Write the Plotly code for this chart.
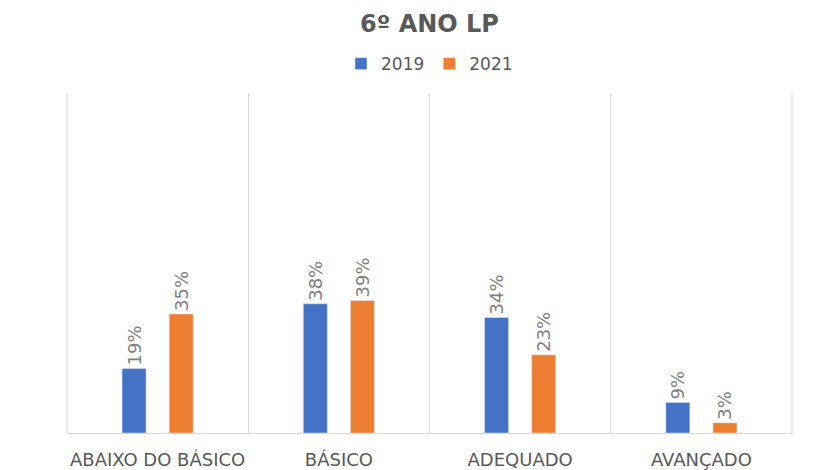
import plotly.graph_objects as go

categories = ["ABAIXO DO BÁSICO", "BÁSICO", "ADEQUADO", "AVANÇADO"]
values_2019 = [19, 38, 34, 9]
values_2021 = [35, 39, 23, 3]
series_names = ["2019", "2021"]
colors = ["#4472C4", "#ED7D31"]

font_family = "DejaVu Sans, Noto Sans, sans-serif"
gray = "#595959"

fig = go.Figure()
for name, vals, col in zip(series_names, [values_2019, values_2021], colors):
    fig.add_trace(go.Bar(
        x=categories, y=vals, name=name, marker_color=col,
        text=[f"{v}%" for v in vals], textposition="outside", textangle=-90,
        constraintext="none",
        textfont=dict(size=18, color="#7f7f7f", family=font_family),
        cliponaxis=False,
    ))

fig.update_layout(
    width=825, height=470,
    margin=dict(l=59, r=41, t=85, b=45, autoexpand=False),
    paper_bgcolor="white", plot_bgcolor="white",
    barmode="group", bargap=0.48, bargroupgap=0.49,
    title=dict(text="<b>6º ANO LP</b>", x=0.5, xref="paper", y=1 - 16 / 470,
               yref="container", yanchor="middle", xanchor="center",
               font=dict(size=24, color=gray, family=font_family)),
    legend=dict(orientation="h", x=0.5, xanchor="center", y=1.085, yanchor="middle",
                font=dict(size=17, color=gray, family=font_family),
                itemwidth=30, tracegroupgap=0),
    showlegend=True,
    shapes=[
        dict(type="line", xref="paper", yref="paper", x0=0, x1=0, y0=0, y1=1,
             line=dict(color="#d9d9d9", width=1), layer="below"),
        dict(type="line", xref="paper", yref="paper", x0=1, x1=1, y0=0, y1=1,
             line=dict(color="#d9d9d9", width=1), layer="below"),
    ],
)
fig.update_xaxes(
    type="category", tickson="boundaries", showgrid=True, gridcolor="#d9d9d9",
    ticks="", showline=True, linecolor="#d9d9d9", automargin=False, tickangle=0,
    ticklabelstandoff=10,
    tickfont=dict(size=18, color=gray, family=font_family),
)
fig.update_yaxes(range=[0, 100], visible=False, showgrid=False, zeroline=False,
                 automargin=False)

fig.write_html("out.html")
